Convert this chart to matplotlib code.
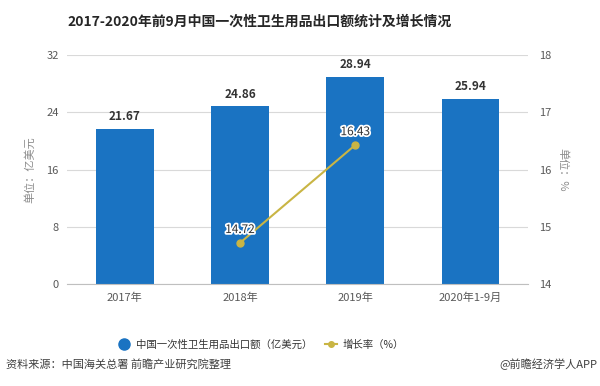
import matplotlib
matplotlib.use("Agg")
import matplotlib.pyplot as plt
import matplotlib.patheffects as pe
from matplotlib.lines import Line2D

plt.rcParams['font.family'] = ['Noto Sans CJK SC', 'DejaVu Sans']

# --- Data ---
categories = ["2017年", "2018年", "2019年", "2020年1-9月"]
export_values = [21.67, 24.86, 28.94, 25.94]
growth_idx = [1, 2]
growth_values = [14.72, 16.43]

BAR_COLOR = "#1a73c2"
LINE_COLOR = "#c9b544"
GRID_COLOR = "#d9d9d9"
TEXT_COLOR = "#595959"

fig = plt.figure(figsize=(6.0, 3.86), dpi=100)
ax1 = fig.add_axes([0.112, 0.264, 0.768, 0.593])

x = list(range(len(categories)))
ax1.bar(x, export_values, width=0.5, color=BAR_COLOR, zorder=2)
for xi, v in zip(x, export_values):
    ax1.text(xi, v + 0.8, f"{v:.2f}", ha="center", va="bottom",
             fontsize=8.5, fontweight="bold", color="#333333")

ax1.set_xlim(-0.5, 3.5)
ax1.set_ylim(0, 32)
ax1.set_yticks([0, 8, 16, 24, 32])
ax1.set_xticks(x)
ax1.set_xticklabels(categories)
ax1.grid(axis="y", color=GRID_COLOR, linewidth=0.8, zorder=0)
ax1.set_axisbelow(True)
for s in ["top", "right", "left"]:
    ax1.spines[s].set_visible(False)
ax1.spines["bottom"].set_color("#bfbfbf")
ax1.tick_params(axis="both", length=0, labelsize=8, colors=TEXT_COLOR, pad=6)
ax1.set_ylabel("单位：亿美元", fontsize=8, color="#8c8c8c", labelpad=8)

# Secondary axis: growth rate
ax2 = ax1.twinx()
ax2.set_ylim(14, 18)
ax2.set_yticks([14, 15, 16, 17, 18])
ax2.plot(growth_idx, growth_values, color=LINE_COLOR, linewidth=1.5,
         marker="o", markersize=5, zorder=3)
for xi, v in zip(growth_idx, growth_values):
    ax2.text(xi, v + 0.12, f"{v:.2f}", ha="center", va="bottom",
             fontsize=8.5, color="#333333",
             path_effects=[pe.withStroke(linewidth=2.5, foreground="white")])
for s in ["top", "right", "left", "bottom"]:
    ax2.spines[s].set_visible(False)
ax2.tick_params(axis="y", length=0, labelsize=8, colors=TEXT_COLOR, pad=8)
ax2.set_ylabel("单位：%", fontsize=8, color="#8c8c8c", rotation=270, labelpad=12)

# Title
fig.text(0.433, 0.945, "2017-2020年前9月中国一次性卫生用品出口额统计及增长情况",
         ha="center", va="center", fontsize=10, fontweight="bold", color="#262626")

# Legend
handles = [
    Line2D([], [], marker="o", linestyle="none", markersize=8, color=BAR_COLOR),
    Line2D([], [], marker="o", linestyle="-", markersize=4, color=LINE_COLOR, linewidth=1.5),
]
labels = ["中国一次性卫生用品出口额（亿美元）", "增长率（%）"]
fig.legend(handles, labels, loc="center", bbox_to_anchor=(0.435, 0.107), ncol=2,
           frameon=False, prop={"size": 7.5, "weight": "medium"},
           handlelength=1.2, handletextpad=0.5, columnspacing=1.2,
           labelcolor="#333333")

# Footer
fig.text(0.01, 0.055, "资料来源：中国海关总署 前瞻产业研究院整理", ha="left", va="center",
         fontsize=8, color="#404040")
fig.text(0.995, 0.055, "@前瞻经济学人APP", ha="right", va="center",
         fontsize=8, color="#404040")

fig.savefig("out.png", dpi=100)
